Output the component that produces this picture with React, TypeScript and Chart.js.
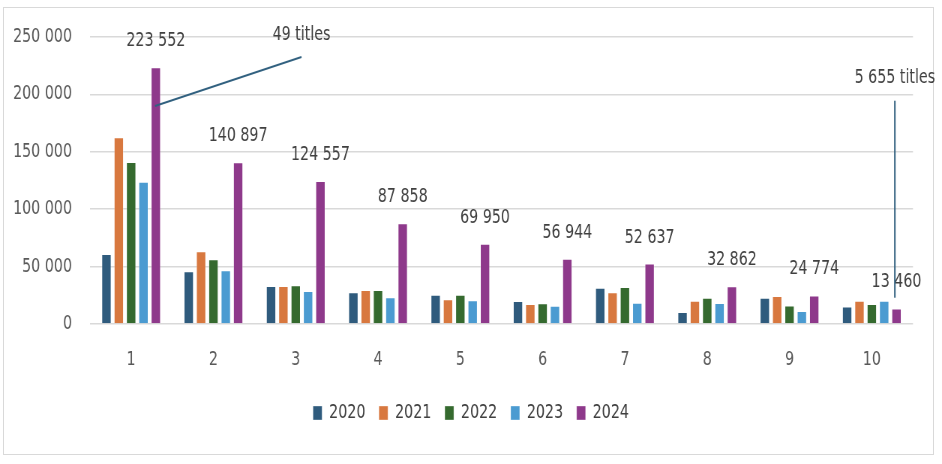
import React, { useEffect, useRef } from 'react';
import { Chart, registerables } from 'chart.js';

Chart.register(...registerables);

const categories = ['1', '2', '3', '4', '5', '6', '7', '8', '9', '10'];
const years = ['2020', '2021', '2022', '2023', '2024'];
const series2020 = [61000, 45900, 33100, 27600, 25500, 20000, 31600, 10400, 22900, 15300];
const series2021 = [162600, 63300, 33100, 29600, 21500, 17400, 27600, 20300, 24400, 20300];
const series2022 = [141100, 56300, 33700, 29600, 25500, 18000, 32200, 22900, 16200, 17400];
const series2023 = [124000, 46800, 28700, 23200, 20600, 15900, 18600, 18300, 11300, 20300];
const series2024 = [223552, 140897, 124557, 87858, 69950, 56944, 52637, 32862, 24774, 13460];
const colors = ['#2f5b7d', '#d8783f', '#356a2f', '#4b9bd1', '#8e398b'];

const yMin = 0;
const yMax = 250000;
const yStep = 50000;

// callouts: [category position, value]
const calloutText = ['49 titles', '5 655 titles'];
const calloutFrom = [[0.29, 189900], [9.28, 22900]];
const calloutTo = [[2.07, 232600], [9.28, 194500]];
const calloutTextAt = [[2.07, 251700], [9.28, 214300]];

const FONT = "'DejaVu Sans', sans-serif";
// the original picture is squeezed horizontally; draw wide and scale down
const SQUEEZE = 0.75;
const W = 942 / SQUEEZE;
const H = 464;

const fmt = (v: number) => String(Math.round(v)).replace(/\B(?=(\d{3})+(?!\d))/g, ' ');

const labelsPlugin = {
  id: 'topLabels',
  afterDatasetsDraw(chart: any) {
    const { ctx, scales } = chart;
    const meta = chart.getDatasetMeta(4);
    ctx.save();
    ctx.font = `19px ${FONT}`;
    ctx.fillStyle = '#404040';
    ctx.textAlign = 'center';
    ctx.textBaseline = 'middle';
    meta.data.forEach((el: any, i: number) => {
      ctx.fillText(fmt(series2024[i]), el.x, el.y - 26);
    });

    ctx.strokeStyle = '#31607f';
    ctx.lineWidth = 2;
    calloutText.forEach((t, i) => {
      ctx.beginPath();
      ctx.moveTo(scales.x.getPixelForValue(calloutFrom[i][0]), scales.y.getPixelForValue(calloutFrom[i][1]));
      ctx.lineTo(scales.x.getPixelForValue(calloutTo[i][0]), scales.y.getPixelForValue(calloutTo[i][1]));
      ctx.stroke();
      ctx.fillText(t, scales.x.getPixelForValue(calloutTextAt[i][0]), scales.y.getPixelForValue(calloutTextAt[i][1]));
    });
    ctx.restore();
  },
};

const BarChart = () => {
  const chartRef = useRef<HTMLCanvasElement>(null);

  useEffect(() => {
    document.body.style.margin = '0';
    if (!chartRef.current) return;
    const allSeries = [series2020, series2021, series2022, series2023, series2024];
    const chart = new Chart(chartRef.current, {
      type: 'bar',
      data: {
        labels: categories,
        datasets: allSeries.map((s, i) => ({
          label: years[i],
          data: s,
          backgroundColor: colors[i],
          borderColor: 'rgba(255,255,255,0.35)',
          borderWidth: 1,
          categoryPercentage: 0.75,
          barPercentage: 0.81,
          yAxisID: 'y',
        })),
      },
      plugins: [labelsPlugin],
      options: {
        animation: false,
        responsive: false,
        layout: { padding: { top: 37, right: 0, bottom: 31.5, left: 0 } },
        plugins: {
          tooltip: { enabled: false },
          legend: {
            position: 'bottom',
            labels: {
              boxWidth: 12,
              boxHeight: 14,
              padding: 18,
              color: '#404040',
              font: { family: FONT, size: 19 },
            },
          },
        },
        scales: {
          x: {
            grid: { display: false, drawTicks: false },
            border: { display: false },
            ticks: { color: '#595959', font: { family: FONT, size: 19 }, padding: 25 },
            afterFit: (scale: any) => {
              scale.height = 61.5;
            },
          },
          y: {
            min: yMin,
            max: yMax,
            grid: { color: '#d9d9d9', lineWidth: 1.5, drawTicks: false },
            border: { display: false },
            ticks: {
              stepSize: yStep,
              color: '#595959',
              font: { family: FONT, size: 19 },
              padding: 24,
              callback: (v: any) => fmt(Number(v)),
            },
            afterFit: (scale: any) => {
              scale.width = 120;
            },
          },
          // empty spacer on the right so the legend stays centred on the page
          spacer: {
            position: 'right',
            grid: { display: false, drawTicks: false },
            border: { display: false },
            ticks: { display: false },
            afterFit: (scale: any) => {
              scale.width = 38.7;
            },
          },
        },
      },
    });
    return () => chart.destroy();
  }, []);

  return (
    <div
      style={{
        position: 'absolute',
        left: 0,
        top: 0,
        width: W,
        height: H,
        transform: `scaleX(${SQUEEZE})`,
        transformOrigin: '0 0',
      }}
    >
      <canvas ref={chartRef} width={W} height={H} />
    </div>
  );
};

export default function App() {
  return (
    <div style={{ position: 'relative', width: 942, height: 464, background: '#fff', overflow: 'hidden' }}>
      <div
        style={{
          position: 'absolute',
          left: 3,
          top: 7,
          width: 931,
          height: 448,
          border: '1.5px solid #d9d9d9',
          boxSizing: 'border-box',
        }}
      />
      <BarChart />
    </div>
  );
}
